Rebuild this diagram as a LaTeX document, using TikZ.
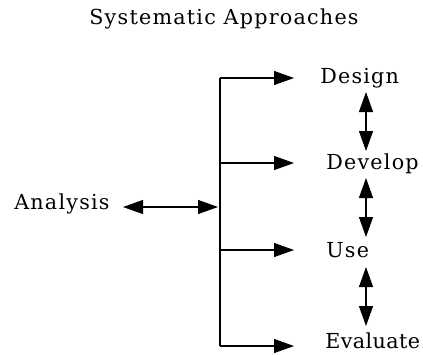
\documentclass[tikz,border=0pt]{standalone}
\usepackage{fontspec}
\setmainfont{DejaVu Serif}[LetterSpace=6]
\newfontfamily\narrowserif{DejaVu Serif}[LetterSpace=2]
\usetikzlibrary{arrows.meta}
\begin{document}
\begin{tikzpicture}[x=0.75pt,y=-0.75pt,
  lbl/.style={inner sep=0pt, anchor=west, font=\fontsize{15.5}{18}\selectfont},
  flow/.style={line width=0.8pt, -{Triangle[length=15pt,width=10.5pt]}},
  both/.style={line width=0.8pt, {Triangle[length=15pt,width=10.5pt]}-{Triangle[length=15pt,width=10.5pt]}},
  bus/.style={line width=0.8pt}]
\useasboundingbox (0,0) rectangle (423,354);

% title
\node[font=\fontsize{15.5}{18}\selectfont] (title) at (224,19) {Systematic Approaches};

% stage labels
\node[lbl] (design)   at (320,78)  {Design};
\node[lbl] (develop)  at (326,164) {Develop};
\node[lbl] (use)      at (326,250) {Use};
\node[lbl, font=\fontsize{15.5}{18}\narrowserif] (evaluate) at (325,341) {Evaluate};
\node[lbl] (analysis) at (14,204)  {Analysis};

% distribution bus and its branch points
\coordinate (busTop) at (220,78);
\coordinate (busDev) at (220,163);
\coordinate (busAna) at (220,207);
\coordinate (busUse) at (220,250);
\coordinate (busBot) at (220,346);
\draw[bus] (busTop) -- (busBot);

% arrow tips in front of the labels
\coordinate (tipDesign)   at (294,78);
\coordinate (tipDevelop)  at (294,163);
\coordinate (tipUse)      at (294,250);
\coordinate (tipEvaluate) at (294,346);
\coordinate (tipAnalysis) at (123,207);

\draw[flow] (busTop) -- (tipDesign);
\draw[flow] (busDev) -- (tipDevelop);
\draw[flow] (busUse) -- (tipUse);
\draw[flow] (busBot) -- (tipEvaluate);
\draw[both] (tipAnalysis) -- ([xshift=-1.5pt]busAna);

% two-way links between successive stages
\coordinate (dA) at (366,92);
\coordinate (dB) at (366,151);
\coordinate (dC) at (366,178);
\coordinate (dD) at (366,237);
\coordinate (dE) at (366,267);
\coordinate (dF) at (366,326);
\draw[both] (dA) -- (dB);
\draw[both] (dC) -- (dD);
\draw[both] (dE) -- (dF);
\end{tikzpicture}
\end{document}
